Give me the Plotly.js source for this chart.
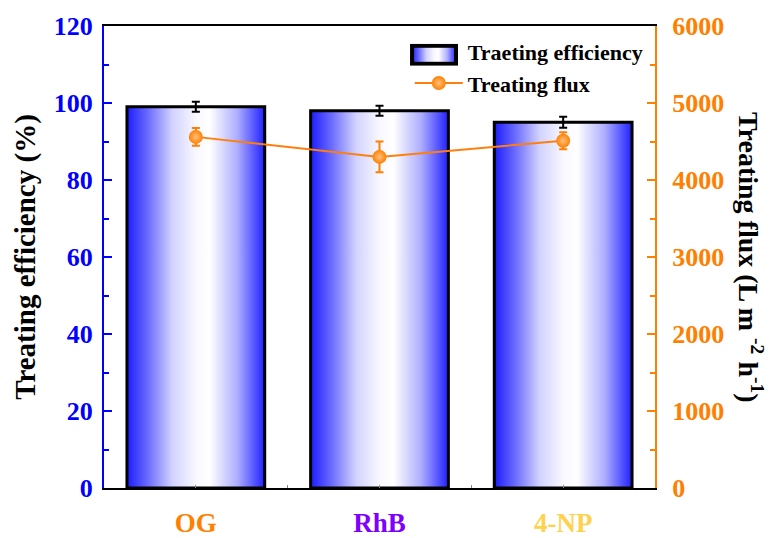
<!DOCTYPE html>
<html>
<head>
<meta charset="utf-8">
<script src="https://cdn.plot.ly/plotly-3.0.1.min.js"></script>
<style>
  html, body { margin: 0; padding: 0; background: #fff; }
  #chart { width: 775px; height: 538px; }
</style>
</head>
<body>
<div id="chart"></div>
<script>
// Dyes tested and their measured results
const dyes = ['OG', 'RhB', '4-NP'];
const dyeColors = ['#ff8000', '#8000ff', '#ffd24d'];
const efficiency = [99.0, 98.0, 95.0];        // %
const efficiencyErr = [1.3, 1.3, 1.4];
const flux = [4560, 4300, 4510];              // L m-2 h-1
const fluxErr = [115, 200, 110];

const barWidth = 0.75;
const font = 'Liberation Serif, Times New Roman, serif';

// Horizontal blue-white-blue shading for each bar
const barShade = [
  [0, '#1c1cff'], [0.15, '#6a6aff'], [0.33, '#d2d2ff'],
  [0.5, '#f8f8ff'], [0.6, '#ffffff'], [0.8, '#aeaeff'], [1, '#2020ff']
];

// Legend swatch for the bars: same shading inside a black frame
const swatchStops = barShade
  .map(s => `<stop offset='${s[0]}' stop-color='${s[1]}'/>`).join('');
const swatchSvg =
  `<svg xmlns='http://www.w3.org/2000/svg' width='48' height='22' viewBox='0 0 48 22'>` +
  `<defs><linearGradient id='g' x1='0' x2='1' y1='0' y2='0'>${swatchStops}</linearGradient></defs>` +
  `<rect x='2' y='2' width='44' height='18' fill='url(#g)' stroke='#000' stroke-width='4'/></svg>`;
const swatchSrc = 'data:image/svg+xml;charset=utf-8,' + encodeURIComponent(swatchSvg);

const traces = [];

// Legend entry for the bars (its swatch is the framed gradient image)
traces.push({
  type: 'scatter',
  x: [null], y: [null],
  mode: 'lines',
  line: { color: 'rgba(0,0,0,0)', width: 1 },
  name: 'Traeting efficiency',
  hoverinfo: 'skip'
});

// Bars drawn as filled outlines so each can carry its own gradient
dyes.forEach((d, i) => {
  const x0 = i - barWidth / 2, x1 = i + barWidth / 2;
  traces.push({
    type: 'scatter',
    x: [x0, x1, x1, x0, x0],
    y: [0, 0, efficiency[i], efficiency[i], 0],
    mode: 'lines',
    fill: 'toself',
    fillgradient: { type: 'horizontal', colorscale: barShade },
    line: { color: '#000', width: 3 },
    showlegend: false,
    hoverinfo: 'skip'
  });
});

// Error bars on efficiency
traces.push({
  type: 'scatter',
  x: dyes.map((d, i) => i),
  y: efficiency,
  mode: 'markers',
  marker: { size: 1, color: 'rgba(0,0,0,0)' },
  error_y: { type: 'data', array: efficiencyErr, visible: true, color: '#000', thickness: 2, width: 4 },
  showlegend: false,
  hoverinfo: 'skip'
});

// Flux on the right-hand axis
traces.push({
  type: 'scatter',
  x: dyes.map((d, i) => i),
  y: flux,
  yaxis: 'y2',
  mode: 'lines+markers',
  name: 'Treating flux',
  line: { color: '#ff7f0e', width: 2 },
  marker: {
    size: 14, color: '#ff8000',
    line: { width: 0 },
    gradient: { type: 'radial', color: '#ffc080' }
  },
  error_y: { type: 'data', array: fluxErr, visible: true, color: '#ff8000', thickness: 2, width: 4 }
});

const layout = {
  width: 775,
  height: 538,
  margin: { l: 104, r: 120, t: 26, b: 50 },
  paper_bgcolor: '#fff',
  plot_bgcolor: '#fff',
  font: { family: font, color: '#000' },
  showlegend: true,
  legend: {
    x: 0.555, y: 0.99, xanchor: 'left', yanchor: 'top',
    bgcolor: 'rgba(0,0,0,0)',
    font: { family: font, size: 22, weight: 'bold', color: '#000' },
    itemwidth: 48,
    tracegroupgap: 2
  },
  images: [{
    source: swatchSrc,
    xref: 'paper', yref: 'paper',
    x: 0.5554, y: 0.9615,
    sizex: 48 / 551, sizey: 22 / 462,
    xanchor: 'left', yanchor: 'top',
    sizing: 'stretch',
    layer: 'above'
  }],
  xaxis: {
    range: [-0.5, 2.5],
    tickvals: [0, 1, 2],
    ticktext: dyes.map((d, i) => '<span style="color:' + dyeColors[i] + '">' + d + '</span>'),
    tickfont: { family: font, size: 27, weight: 'bold' },
    ticklabelstandoff: 10,
    ticks: 'inside', ticklen: 3, tickcolor: '#888', tickwidth: 1,
    minor: { dtick: 0.5, tick0: 0, ticks: 'inside', ticklen: 3, tickcolor: '#888' },
    showline: true, linecolor: '#000', linewidth: 2, mirror: true,
    showgrid: false, zeroline: false,
    fixedrange: true
  },
  yaxis: {
    range: [0, 120],
    dtick: 20,
    ticks: 'inside', ticklen: 8, tickwidth: 2, tickcolor: '#0000ff',
    minor: { dtick: 10, ticks: 'inside', ticklen: 5, tickwidth: 2, tickcolor: '#0000ff' },
    tickfont: { family: font, size: 26, weight: 'bold', color: '#0000ff' },
    ticklabelstandoff: 4,
    showline: true, linecolor: '#0000ff', linewidth: 2,
    showgrid: false, zeroline: false,
    title: { text: 'Treating efficiency (%)', font: { family: font, size: 29, weight: 'bold', color: '#000' }, standoff: 10 }
  },
  yaxis2: {
    range: [0, 6000],
    dtick: 1000,
    overlaying: 'y', side: 'right',
    ticks: 'inside', ticklen: 8, tickwidth: 2, tickcolor: '#ff7f00',
    minor: { dtick: 500, ticks: 'inside', ticklen: 5, tickwidth: 2, tickcolor: '#ff7f00' },
    tickfont: { family: font, size: 26, weight: 'bold', color: '#ff7f00' },
    ticklabelstandoff: 10,
    showline: true, linecolor: '#ff7f00', linewidth: 2,
    showgrid: false, zeroline: false
  },
  annotations: [{
    xref: 'paper', yref: 'paper',
    x: 1, xanchor: 'center', xshift: 96, y: 0.5, yanchor: 'middle',
    text: 'Treating flux (L m <sup>-2</sup> h<sup>-1</sup>)',
    textangle: 90,
    showarrow: false,
    font: { family: font, size: 28, weight: 'bold', color: '#000' }
  }]
};

Plotly.newPlot('chart', traces, layout, { displayModeBar: false, staticPlot: true });
</script>
</body>
</html>
